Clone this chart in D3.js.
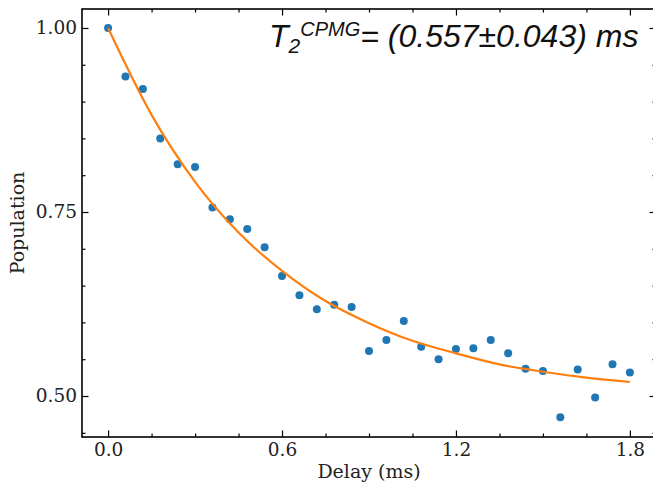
<!DOCTYPE html>
<html>
<head>
    <meta charset="utf-8">
    <title>CPMG decay</title>
    <script src="https://cdn.jsdelivr.net/npm/d3@7"></script>
    <style>
        body { margin: 0; background: #fff; }
        .axis text {
            font-family: "DejaVu Serif", serif;
            font-size: 18.5px;
            fill: #222;
        }
        .axis line { stroke: #000; stroke-width: 1.2; }
        .axis path { display: none; }
        .label {
            font-family: "DejaVu Serif", serif;
            font-size: 19px;
            fill: #222;
            text-anchor: middle;
        }
        .title {
            font-family: "Liberation Sans", Arial, sans-serif;
            font-style: italic;
            fill: #111;
        }
    </style>
</head>
<body>
    <div id="chart"></div>

    <script>
        // measured delays (ms) and populations
        const delays = [0.00, 0.06, 0.12, 0.18, 0.24, 0.30, 0.36, 0.42, 0.48, 0.54,
                        0.60, 0.66, 0.72, 0.78, 0.84, 0.90, 0.96, 1.02, 1.08, 1.14,
                        1.20, 1.26, 1.32, 1.38, 1.44, 1.50, 1.56, 1.62, 1.68, 1.74, 1.80];
        const population = [1.000, 0.934, 0.917, 0.850, 0.815, 0.811, 0.756, 0.740, 0.727, 0.702,
                            0.663, 0.637, 0.618, 0.624, 0.621, 0.561, 0.576, 0.602, 0.567, 0.550,
                            0.564, 0.565, 0.576, 0.558, 0.537, 0.534, 0.471, 0.536, 0.498, 0.543, 0.532];

        // fitted curve
        const fitDelays = [0.00, 0.15, 0.30, 0.45, 0.60, 0.75, 0.90, 1.05, 1.20, 1.35, 1.50, 1.65, 1.80];
        const fitValues = [1.000, 0.882, 0.791, 0.722, 0.670, 0.629, 0.599, 0.575, 0.558, 0.543, 0.533, 0.525, 0.519];

        const xMajor = [0.0, 0.6, 1.2, 1.8];
        const xMinor = [0.15, 0.3, 0.45, 0.75, 0.9, 1.05, 1.35, 1.5, 1.65];
        const yMajor = [0.50, 0.75, 1.00];
        const yMinor = [0.45, 0.55, 0.60, 0.65, 0.70, 0.80, 0.85, 0.90, 0.95];

        const width = 653, height = 486;
        const plot = { left: 82, right: 656, top: 9, bottom: 437 };

        const svg = d3.select("#chart")
            .append("svg")
            .attr("width", width)
            .attr("height", height);

        const x = d3.scaleLinear().domain([-0.09, 1.89]).range([plot.left, plot.right]);
        const y = d3.scaleLinear().domain([0.4443, 1.0258]).range([plot.bottom, plot.top]);

        const fmtX = d3.format(".1f");
        const fmtY = d3.format(".2f");

        // bottom axis
        const gx = svg.append("g")
            .attr("class", "axis")
            .attr("transform", `translate(0, ${plot.bottom})`);
        gx.call(d3.axisBottom(x).tickValues(xMajor).tickFormat(fmtX)
            .tickSizeInner(-6.5).tickSizeOuter(0).tickPadding(6));
        gx.append("g").call(d3.axisBottom(x).tickValues(xMinor).tickFormat("")
            .tickSizeInner(-3.5).tickSizeOuter(0));

        // top axis
        const gt = svg.append("g")
            .attr("class", "axis")
            .attr("transform", `translate(0, ${plot.top})`);
        gt.call(d3.axisTop(x).tickValues(xMajor).tickFormat("")
            .tickSizeInner(-6.5).tickSizeOuter(0));
        gt.append("g").call(d3.axisTop(x).tickValues(xMinor).tickFormat("")
            .tickSizeInner(-3.5).tickSizeOuter(0));

        // left axis
        const gy = svg.append("g")
            .attr("class", "axis")
            .attr("transform", `translate(${plot.left}, 0)`);
        gy.call(d3.axisLeft(y).tickValues(yMajor).tickFormat(fmtY)
            .tickSizeInner(-6.5).tickSizeOuter(0).tickPadding(5));
        gy.append("g").call(d3.axisLeft(y).tickValues(yMinor).tickFormat("")
            .tickSizeInner(-3.5).tickSizeOuter(0));

        // right axis
        const gr = svg.append("g")
            .attr("class", "axis")
            .attr("transform", `translate(${plot.right}, 0)`);
        gr.call(d3.axisRight(y).tickValues(yMajor).tickFormat("")
            .tickSizeInner(-6.5).tickSizeOuter(0));
        gr.append("g").call(d3.axisRight(y).tickValues(yMinor).tickFormat("")
            .tickSizeInner(-3.5).tickSizeOuter(0));

        // frame
        svg.append("rect")
            .attr("x", plot.left)
            .attr("y", plot.top)
            .attr("width", plot.right - plot.left)
            .attr("height", plot.bottom - plot.top)
            .attr("fill", "none")
            .attr("stroke", "#000")
            .attr("stroke-width", 1.6);

        // data points
        svg.append("g").selectAll("circle")
            .data(delays.map((d, i) => [d, population[i]]))
            .enter().append("circle")
            .attr("cx", d => x(d[0]))
            .attr("cy", d => y(d[1]))
            .attr("r", 4)
            .attr("fill", "#1f77b4");

        // fit line
        const line = d3.line()
            .x(d => x(d[0]))
            .y(d => y(d[1]))
            .curve(d3.curveMonotoneX);
        svg.append("path")
            .datum(fitDelays.map((d, i) => [d, fitValues[i]]))
            .attr("d", line)
            .attr("fill", "none")
            .attr("stroke", "#ff7f0e")
            .attr("stroke-width", 2.2);

        // axis labels
        svg.append("text")
            .attr("class", "label")
            .attr("x", (plot.left + plot.right) / 2)
            .attr("y", 478)
            .text("Delay (ms)");
        svg.append("text")
            .attr("class", "label")
            .attr("transform", `translate(24, ${(plot.top + plot.bottom) / 2}) rotate(-90)`)
            .text("Population");

        // fit result
        const title = svg.append("text")
            .attr("class", "title")
            .attr("x", 269)
            .attr("y", 47)
            .style("font-size", "32px");
        title.append("tspan").text("T");
        title.append("tspan").attr("dy", 6).style("font-size", "21px").text("2");
        title.append("tspan").attr("dy", -17).style("font-size", "20px").text("CPMG");
        title.append("tspan").attr("dy", 11).text("= (0.557±0.043) ms");
    </script>
</body>
</html>
